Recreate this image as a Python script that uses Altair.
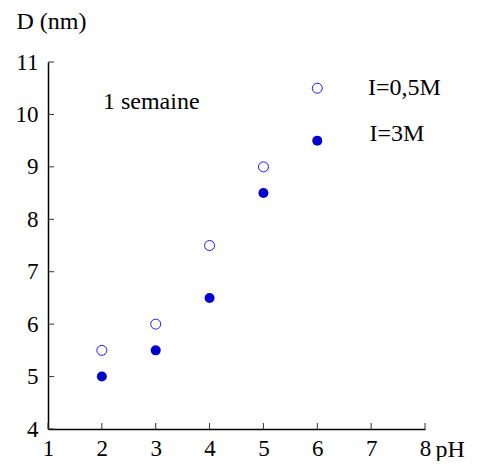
import altair as alt
import pandas as pd

ph = [2, 3, 4, 5, 6]
d_05 = [5.5, 6.0, 7.5, 9.0, 10.5]
d_3 = [5.0, 5.5, 6.5, 8.5, 9.5]
x_ticks = [1, 2, 3, 4, 5, 6, 7, 8]
y_ticks = [4, 5, 6, 7, 8, 9, 10, 11]

ann_text = ["1 semaine", "I=0,5M", "I=3M"]
ann_x = [2.02, 6.94, 6.97]
ann_y = [10.1, 10.37, 9.5]

FONT = "Liberation Serif"
W, H = 377, 367

df05 = pd.DataFrame({"pH": ph, "D": d_05})
df3 = pd.DataFrame({"pH": ph, "D": d_3})
ann = pd.DataFrame({"t": ann_text, "x": ann_x, "y": ann_y})
xt = pd.DataFrame({"v": x_ticks})
yt = pd.DataFrame({"v": y_ticks})

xs = alt.Scale(domain=[1, 8], nice=False, zero=False)
ys = alt.Scale(domain=[4, 11], nice=False, zero=False)

xaxis = alt.Axis(values=x_ticks, format="d", tickSize=0, labelPadding=8,
                 labelFont=FONT, titleFont=FONT,
                 grid=False, title="pH", titleAlign="left", titleBaseline="alphabetic",
                 titleX=387, titleY=27, labelFlush=False)
yaxis = alt.Axis(values=y_ticks, format="d", tickSize=0, labelPadding=10,
                 labelFont=FONT, titleFont=FONT,
                 grid=False, title="D (nm)", titleAngle=0, titleAlign="left",
                 titleBaseline="alphabetic", titleX=-32, titleY=-34, labelFlush=False)

open_pts = alt.Chart(df05).mark_point(shape="circle", size=100, filled=False,
                                      stroke="#1a1aff", strokeWidth=1, opacity=1).encode(
    x=alt.X("pH:Q", scale=xs, axis=xaxis),
    y=alt.Y("D:Q", scale=ys, axis=yaxis),
)
fill_pts = alt.Chart(df3).mark_point(shape="circle", size=100, filled=True,
                                     color="#0000cc", opacity=1).encode(
    x=alt.X("pH:Q", scale=xs, axis=xaxis),
    y=alt.Y("D:Q", scale=ys, axis=yaxis),
)
xticks = alt.Chart(xt).mark_rule(color="#333333", strokeWidth=1).encode(
    x=alt.X("v:Q", scale=xs, axis=xaxis), y=alt.value(H), y2=alt.value(H - 6))
yticks = alt.Chart(yt).mark_rule(color="#333333", strokeWidth=1).encode(
    y=alt.Y("v:Q", scale=ys, axis=yaxis), x=alt.value(0), x2=alt.value(6))
texts = alt.Chart(ann).mark_text(font=FONT, fontSize=24, align="left",
                                 baseline="alphabetic", color="black").encode(
    x=alt.X("x:Q", scale=xs, axis=xaxis), y=alt.Y("y:Q", scale=ys, axis=yaxis), text="t:N")

chart = alt.layer(open_pts, fill_pts, xticks, yticks, texts).properties(
    width=W, height=H,
    background="white",
    autosize=alt.AutoSizeParams(type="none"),
    padding={"left": 40, "top": 54, "right": 53, "bottom": 32},
).configure(font=FONT).configure_view(stroke=None).configure_axis(
    labelFont=FONT, labelFontSize=23, labelColor="black",
    titleFont=FONT, titleFontSize=24, titleFontWeight="normal", titleColor="black",
    domainColor="black", domainWidth=1.5,
)

chart.save("out.html", embed_options={"renderer": "svg", "actions": False})
